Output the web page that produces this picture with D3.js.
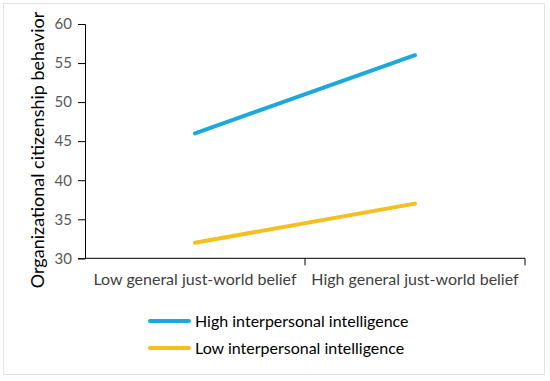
<!DOCTYPE html>
<html>
<head>
<meta charset="utf-8">
<script src="https://cdn.jsdelivr.net/npm/d3@7"></script>
<style>
html,body{margin:0;padding:0;background:#fff;}
svg{display:block;}
</style>
</head>
<body>
<svg id="chart" width="550" height="381"></svg>
<script>
const categories = ["Low general just-world belief", "High general just-world belief"];
const seriesNames = ["High interpersonal intelligence", "Low interpersonal intelligence"];
const highValues = [46, 56];
const lowValues = [32, 37];
const yTicks = [30, 35, 40, 45, 50, 55, 60];
const colors = ["#1ca8dd", "#f5bf1f"];

(function () {
const svg = d3.select("#chart");
const font = "Lato, 'Open Sans', sans-serif";

svg.append("rect").attr("x", 3.5).attr("y", 3.5).attr("width", 541).attr("height", 371)
  .attr("fill", "#fff").attr("stroke", "#e3e3e3").attr("stroke-width", 1);

const pLeft = 85, pRight = 525, pTop = 24, pBottom = 258.3;
const x = d3.scaleBand().domain(categories).range([pLeft, pRight]).padding(0);
const y = d3.scaleLinear().domain([30, 60]).range([pBottom, pTop]);

const yAxis = d3.axisLeft(y).tickValues(yTicks).tickSize(7).tickPadding(6);
const gy = svg.append("g").attr("transform", `translate(${pLeft},0)`).call(yAxis);
gy.select(".domain").attr("stroke", "#000");
gy.selectAll(".tick line").attr("stroke", "#000");
gy.selectAll(".tick text").attr("fill", "#595959").style("font-family", font).style("font-size", "15px");

// x axis
const gx = svg.append("g").attr("transform", `translate(0,${pBottom})`);
gx.append("line").attr("x1", pLeft).attr("x2", pRight).attr("stroke", "#000");
const bounds = categories.map(c => x(c) + x.bandwidth());
gx.selectAll(".xt").data(bounds).enter().append("line")
  .attr("x1", d => d).attr("x2", d => d).attr("y1", 0).attr("y2", 7).attr("stroke", "#000");
gx.selectAll(".xl").data(categories).enter().append("text")
  .attr("x", d => x(d) + x.bandwidth() / 2).attr("y", 27)
  .attr("text-anchor", "middle").attr("fill", "#404040")
  .style("font-family", font).style("font-size", "16px").text(d => d);

// y title
svg.append("text").attr("transform", `translate(44,150) rotate(-90)`)
  .attr("text-anchor", "middle").attr("fill", "#000")
  .style("font-family", font).style("font-size", "18px")
  .text("Organizational citizenship behavior");

const line = d3.line().x((d, i) => x(categories[i]) + x.bandwidth() / 2).y(d => y(d));
[highValues, lowValues].forEach((vals, i) => {
  svg.append("path").datum(vals).attr("d", line).attr("fill", "none")
    .attr("stroke", colors[i]).attr("stroke-width", 4).attr("stroke-linecap", "round");
});

// legend
const lg = svg.append("g");
seriesNames.forEach((name, i) => {
  const ly = 321 + i * 27;
  lg.append("line").attr("x1", 150).attr("x2", 189).attr("y1", ly).attr("y2", ly)
    .attr("stroke", colors[i]).attr("stroke-width", 4).attr("stroke-linecap", "round");
  lg.append("text").attr("x", 195).attr("y", ly + 6).attr("fill", "#000")
    .style("font-family", font).style("font-size", "16px").text(name);
});
})();
</script>
</body>
</html>
